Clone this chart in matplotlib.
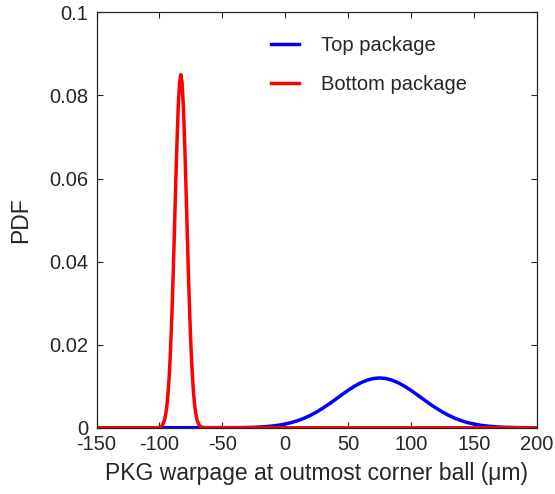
import matplotlib.pyplot as plt

plt.rcParams['font.family'] = ['Liberation Sans', 'DejaVu Sans']
plt.rcParams['axes.unicode_minus'] = False

# values (warpage in um, PDF)
top_x = [-150, -35, -25, -20, -15, -10, -5, 0, 5, 10, 15, 20, 25, 30, 35, 40, 45,
         50, 55, 60, 65, 70, 75, 80, 85, 90, 95, 100, 105, 110, 115, 120, 125,
         130, 135, 140, 145, 150, 155, 160, 165, 170, 175, 185, 200]
top_pdf = [0.0, 0.00005, 0.00012, 0.00019, 0.00029, 0.00044, 0.00064, 0.00091,
           0.00126, 0.00172, 0.00230, 0.00299, 0.00381, 0.00474, 0.00576, 0.00684,
           0.00794, 0.00901, 0.00999, 0.01082, 0.01146, 0.01186, 0.0120, 0.01186,
           0.01146, 0.01082, 0.00999, 0.00901, 0.00794, 0.00684, 0.00576, 0.00474,
           0.00381, 0.00299, 0.00230, 0.00172, 0.00126, 0.00091, 0.00064, 0.00044,
           0.00029, 0.00019, 0.00012, 0.00005, 0.00001]

bot_x = [-150, -105, -103, -101, -99, -98, -97, -96, -95, -94, -93, -92, -91, -90,
         -89, -88, -87, -86, -85, -84, -83, -82, -81, -80, -79, -78, -77, -76, -75,
         -74, -73, -72, -71, -70, -69, -68, -67, -65, -63, -61, 200]
bot_pdf = [0.0, 0.0, 0.00001, 0.00006, 0.00026, 0.00052, 0.00100, 0.00185, 0.00326,
           0.00549, 0.00884, 0.0136, 0.0200, 0.0280, 0.0376, 0.0483, 0.0592, 0.0693,
           0.0776, 0.0831, 0.0850, 0.0831, 0.0776, 0.0693, 0.0592, 0.0483, 0.0376,
           0.0280, 0.0200, 0.0136, 0.00884, 0.00549, 0.00326, 0.00185, 0.00100,
           0.00052, 0.00026, 0.00006, 0.00001, 0.0, 0.0]

x_ticks = [-150, -100, -50, 0, 50, 100, 150, 200]
y_ticks = [0, 0.02, 0.04, 0.06, 0.08, 0.1]
y_labels = ['0', '0.02', '0.04', '0.06', '0.08', '0.1']

ink = '#262626'

fig = plt.figure(figsize=(5.55, 4.94), dpi=100)
ax = fig.add_axes([0.174, 0.134, 0.793, 0.841])

ax.plot(top_x, top_pdf, color='#0000ff', lw=2.5, label='Top package')
ax.plot(bot_x, bot_pdf, color='#ff0000', lw=2.5, label='Bottom package')

ax.set_xlim(-150, 200)
ax.set_ylim(0, 0.1)
ax.set_xticks(x_ticks)
ax.set_yticks(y_ticks)
ax.set_yticklabels(y_labels)
ax.tick_params(axis='x', pad=5)
ax.tick_params(axis='y', pad=6)
ax.tick_params(direction='in', top=True, right=True, length=4, width=0.8,
               labelsize=14.5, colors=ink)
for s in ax.spines.values():
    s.set_color(ink)
    s.set_linewidth(0.9)

ax.set_xlabel('PKG warpage at outmost corner ball (\u03bcm)', fontsize=16.5, color=ink, labelpad=6)
ax.set_ylabel('PDF', fontsize=16.5, color=ink, labelpad=12)

leg = ax.legend(loc='upper left', bbox_to_anchor=(0.397, 0.943), frameon=False,
                fontsize=14.5, handlelength=1.4, handletextpad=1.05,
                labelspacing=1.0, borderpad=0, borderaxespad=0)
for t in leg.get_texts():
    t.set_color(ink)

fig.savefig('out.png', dpi=100)
